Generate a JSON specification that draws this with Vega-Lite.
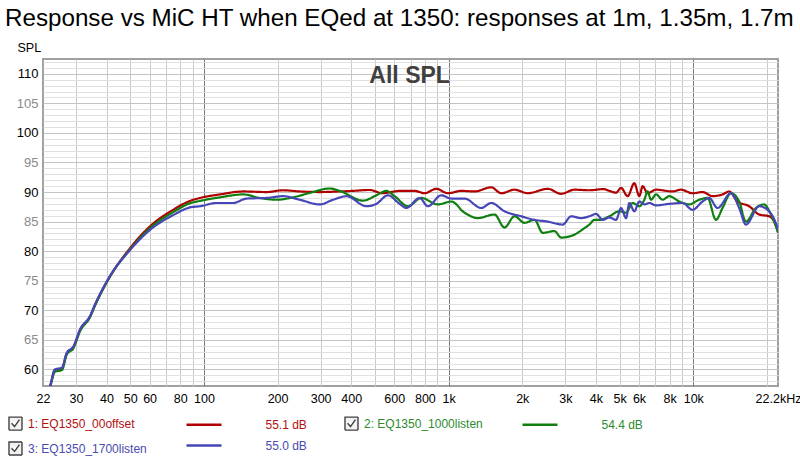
{
 "$schema": "https://vega.github.io/schema/vega-lite/v6.json",
 "width": 735,
 "height": 327,
 "autosize": {"type": "none"},
 "padding": {"left": 43, "top": 59, "right": 22, "bottom": 76},
 "background": "white",
 "title": {"text": "Response vs MiC HT when EQed at 1350: responses at 1m, 1.35m, 1.7m", "anchor": "start", "frame": "group", "dx": -38, "offset": 10, "fontSize": 24.2, "fontWeight": "normal", "font": "Liberation Sans", "color": "black"},
 "datasets": {
  "series": [
   {"s": 1, "name": "1: EQ1350_00offset", "level": "55.1 dB"},
   {"s": 2, "name": "2: EQ1350_1000listen", "level": "54.4 dB"},
   {"s": 3, "name": "3: EQ1350_1700listen", "level": "55.0 dB"}
  ],
  "resp": [
   {"s":1,"f":22.65,"db":55.7},{"s":1,"f":23.5,"db":57.1},{"s":1,"f":24.6,"db":59.9},{"s":1,"f":26.3,"db":60.2},{"s":1,"f":27.5,"db":62.7},{"s":1,"f":29.3,"db":63.8},{"s":1,"f":31.2,"db":66.7},{"s":1,"f":34.2,"db":68.9},{"s":1,"f":35.9,"db":70.9},{"s":1,"f":41.3,"db":75.7},{"s":1,"f":49.9,"db":80.5},{"s":1,"f":60.2,"db":84.2},{"s":1,"f":74.9,"db":87.0},{"s":1,"f":87.7,"db":88.5},{"s":1,"f":96.3,"db":89.0},{"s":1,"f":116.2,"db":89.6},{"s":1,"f":144.7,"db":90.1},{"s":1,"f":180.3,"db":90.0},{"s":1,"f":210.7,"db":90.3},{"s":1,"f":246.5,"db":90.1},{"s":1,"f":297.5,"db":90.0},{"s":1,"f":359.1,"db":90.1},{"s":1,"f":406.8,"db":90.2},{"s":1,"f":476,"db":90.35},{"s":1,"f":537.8,"db":89.8},{"s":1,"f":602,"db":90.1},{"s":1,"f":631,"db":90.2},{"s":1,"f":726.4,"db":90.2},{"s":1,"f":798,"db":89.8},{"s":1,"f":890.8,"db":90.55},{"s":1,"f":993.4,"db":89.8},{"s":1,"f":1126.7,"db":90.2},{"s":1,"f":1276.7,"db":90.1},{"s":1,"f":1494,"db":90.8},{"s":1,"f":1641,"db":89.8},{"s":1,"f":1860,"db":90.4},{"s":1,"f":2107,"db":89.8},{"s":1,"f":2543,"db":90.55},{"s":1,"f":2884,"db":89.7},{"s":1,"f":3268,"db":90.4},{"s":1,"f":3763,"db":90.3},{"s":1,"f":4300,"db":90.5},{"s":1,"f":4541,"db":90.2},{"s":1,"f":4837,"db":89.9},{"s":1,"f":5069,"db":90.7},{"s":1,"f":5393,"db":89.3},{"s":1,"f":5743,"db":91.5},{"s":1,"f":6020,"db":89.3},{"s":1,"f":6211,"db":91.0},{"s":1,"f":6509,"db":89.8},{"s":1,"f":7044,"db":90.4},{"s":1,"f":8232,"db":90.1},{"s":1,"f":8908,"db":90.4},{"s":1,"f":9934,"db":89.8},{"s":1,"f":10914,"db":90.0},{"s":1,"f":11990,"db":89.3},{"s":1,"f":13170,"db":89.6},{"s":1,"f":14030,"db":90.1},{"s":1,"f":15160,"db":88.4},{"s":1,"f":16925,"db":87.6},{"s":1,"f":18596,"db":86.2},{"s":1,"f":20433,"db":85.9},{"s":1,"f":22090,"db":83.6},{"s":1,"f":22200,"db":83.3},
   {"s":2,"f":22.65,"db":55.6},{"s":2,"f":23.5,"db":57.0},{"s":2,"f":24.6,"db":59.6},{"s":2,"f":26.3,"db":59.9},{"s":2,"f":27.5,"db":62.5},{"s":2,"f":29.3,"db":63.6},{"s":2,"f":31.2,"db":66.5},{"s":2,"f":34.2,"db":68.8},{"s":2,"f":35.9,"db":70.8},{"s":2,"f":41.3,"db":75.7},{"s":2,"f":49.9,"db":80.3},{"s":2,"f":60.2,"db":83.9},{"s":2,"f":74.9,"db":86.6},{"s":2,"f":87.7,"db":88.1},{"s":2,"f":96.3,"db":88.5},{"s":2,"f":116.2,"db":89.1},{"s":2,"f":144.7,"db":89.6},{"s":2,"f":169.3,"db":89.0},{"s":2,"f":198,"db":88.7},{"s":2,"f":231.4,"db":89.1},{"s":2,"f":270.8,"db":89.85},{"s":2,"f":326.8,"db":90.6},{"s":2,"f":359.1,"db":90.2},{"s":2,"f":446.9,"db":88.55},{"s":2,"f":506.8,"db":89.45},{"s":2,"f":556.8,"db":90.2},{"s":2,"f":602,"db":89.3},{"s":2,"f":682.3,"db":87.6},{"s":2,"f":773.7,"db":89.0},{"s":2,"f":904.3,"db":87.9},{"s":2,"f":1025.6,"db":88.4},{"s":2,"f":1162.2,"db":86.5},{"s":2,"f":1316.9,"db":85.6},{"s":2,"f":1541,"db":86.2},{"s":2,"f":1692,"db":84.0},{"s":2,"f":1860,"db":85.9},{"s":2,"f":2043,"db":84.8},{"s":2,"f":2244,"db":85.3},{"s":2,"f":2426,"db":83.1},{"s":2,"f":2708,"db":83.4},{"s":2,"f":2884,"db":82.3},{"s":2,"f":3268,"db":82.8},{"s":2,"f":3591,"db":83.9},{"s":2,"f":3763,"db":84.5},{"s":2,"f":3944,"db":85.3},{"s":2,"f":4134,"db":85.3},{"s":2,"f":4541,"db":85.9},{"s":2,"f":4989,"db":86.75},{"s":2,"f":5313,"db":86.5},{"s":2,"f":5652,"db":88.15},{"s":2,"f":6020,"db":87.6},{"s":2,"f":6310,"db":88.7},{"s":2,"f":6509,"db":90.1},{"s":2,"f":6720,"db":88.7},{"s":2,"f":7044,"db":89.6},{"s":2,"f":7493,"db":88.7},{"s":2,"f":7980,"db":89.3},{"s":2,"f":8768,"db":88.4},{"s":2,"f":9630,"db":87.9},{"s":2,"f":10580,"db":88.7},{"s":2,"f":11440,"db":89.0},{"s":2,"f":12380,"db":85.3},{"s":2,"f":13170,"db":87.3},{"s":2,"f":14253,"db":89.8},{"s":2,"f":15410,"db":88.4},{"s":2,"f":16412,"db":85.0},{"s":2,"f":18030,"db":87.3},{"s":2,"f":19494,"db":87.9},{"s":2,"f":20760,"db":86.2},{"s":2,"f":22090,"db":83.4},{"s":2,"f":22200,"db":83.1},
   {"s":3,"f":22.65,"db":55.8},{"s":3,"f":23.5,"db":57.2},{"s":3,"f":24.6,"db":60.0},{"s":3,"f":26.3,"db":60.3},{"s":3,"f":27.5,"db":62.8},{"s":3,"f":29.3,"db":63.9},{"s":3,"f":31.2,"db":66.8},{"s":3,"f":34.2,"db":69.0},{"s":3,"f":35.9,"db":71.0},{"s":3,"f":41.3,"db":75.8},{"s":3,"f":49.9,"db":80.2},{"s":3,"f":60.2,"db":83.6},{"s":3,"f":74.9,"db":86.1},{"s":3,"f":87.7,"db":87.4},{"s":3,"f":96.3,"db":87.6},{"s":3,"f":112.7,"db":88.15},{"s":3,"f":131.7,"db":88.15},{"s":3,"f":149.4,"db":88.9},{"s":3,"f":180.3,"db":89.0},{"s":3,"f":210.7,"db":89.3},{"s":3,"f":246.5,"db":88.7},{"s":3,"f":297.5,"db":87.9},{"s":3,"f":337.1,"db":88.7},{"s":3,"f":382.4,"db":89.3},{"s":3,"f":461.4,"db":87.6},{"s":3,"f":506.8,"db":88.0},{"s":3,"f":565.2,"db":89.45},{"s":3,"f":631,"db":88.0},{"s":3,"f":672.1,"db":87.3},{"s":3,"f":761.4,"db":89.0},{"s":3,"f":823.2,"db":87.6},{"s":3,"f":933.8,"db":89.45},{"s":3,"f":1025.6,"db":88.9},{"s":3,"f":1162.2,"db":88.9},{"s":3,"f":1359.7,"db":87.3},{"s":3,"f":1494,"db":88.15},{"s":3,"f":1692,"db":86.75},{"s":3,"f":1980,"db":85.9},{"s":3,"f":2244,"db":85.3},{"s":3,"f":2543,"db":85.0},{"s":3,"f":2928,"db":84.5},{"s":3,"f":3168,"db":85.9},{"s":3,"f":3480,"db":85.6},{"s":3,"f":3763,"db":85.9},{"s":3,"f":4008,"db":86.3},{"s":3,"f":4264,"db":85.3},{"s":3,"f":4541,"db":85.7},{"s":3,"f":4837,"db":85.3},{"s":3,"f":5069,"db":87.3},{"s":3,"f":5313,"db":85.6},{"s":3,"f":5480,"db":88.15},{"s":3,"f":5743,"db":86.75},{"s":3,"f":6020,"db":88.4},{"s":3,"f":6310,"db":87.9},{"s":3,"f":6614,"db":88.15},{"s":3,"f":7044,"db":87.75},{"s":3,"f":7980,"db":88.0},{"s":3,"f":9043,"db":88.15},{"s":3,"f":9934,"db":87.0},{"s":3,"f":10914,"db":88.4},{"s":3,"f":11622,"db":89.0},{"s":3,"f":12566,"db":87.3},{"s":3,"f":14253,"db":89.8},{"s":3,"f":15410,"db":87.3},{"s":3,"f":16412,"db":84.5},{"s":3,"f":18596,"db":87.6},{"s":3,"f":20107,"db":87.0},{"s":3,"f":22090,"db":83.9},{"s":3,"f":22200,"db":83.6}
  ]
 },
 "resolve": {"axis": {"x": "independent", "y": "independent"}},
 "layer": [
  {
   "data": {"name": "resp"},
   "transform": [{"lookup": "s", "from": {"data": {"name": "series"}, "key": "s", "fields": ["name", "level"]}}],
   "mark": {"type": "line", "strokeWidth": 2.2, "interpolate": "monotone", "clip": true},
   "encoding": {
    "detail": {"field": "s", "type": "nominal"},
    "x": {"field": "f", "type": "quantitative",
      "scale": {"type": "log", "domain": [22, 22200], "nice": false},
      "axis": {"orient": "bottom", "title": null, "values": [22,30,40,50,60,80,100,200,300,400,600,800,1000,2000,3000,4000,5000,6000,8000,10000,22200],
        "labelExpr": "datum.value >= 22000 ? '22.2kHz' : (datum.value >= 1000 ? (datum.value/1000) + 'k' : datum.label)",
        "grid": false, "ticks": false, "domain": false, "labelFontSize": 12.5, "labelFont": "Liberation Sans", "labelColor": "#000000", "labelPadding": 6, "labelOverlap": false, "labelBound": false, "labelFlush": false}},
    "y": {"field": "db", "type": "quantitative",
      "scale": {"domain": [57.2, 112.5], "nice": false, "zero": false},
      "axis": {"orient": "left", "title": "SPL", "titleAngle": 0, "titleX": -26, "titleY": -12, "titleAlign": "left", "titleBaseline": "middle", "titleFontWeight": "normal", "titleFontSize": 12.5, "titleFont": "Liberation Sans", "titleColor": "#000000",
        "values": [60,65,70,75,80,85,90,95,100,105,110],
        "grid": false,
        "labelColor": {"condition": {"test": "datum.value % 10 == 0", "value": "#000000"}, "value": "#8a8a8a"},
        "ticks": false, "domain": false, "labelFontSize": 13, "labelFont": "Liberation Sans", "labelPadding": 5, "labelOverlap": false, "labelBound": false, "labelFlush": false}},
    "color": {"field": "level", "type": "nominal",
      "scale": {"domain": ["55.1 dB", "55.0 dB", "54.4 dB"], "range": ["#B00000", "#4646B8", "#0F7F0F"]},
      "legend": {"title": null, "orient": "none", "legendX": 152.5, "legendY": 357, "columns": 2, "columnPadding": 210, "rowPadding": 6, "padding": 0,
        "symbolType": "M-2.5,0H2.5", "symbolSize": 196, "symbolStrokeWidth": 2.5, "labelOffset": 53,
        "labelFontSize": 12, "labelFont": "Liberation Sans",
        "labelColor": {"expr": "datum.value == '55.1 dB' ? '#B01010' : datum.value == '54.4 dB' ? '#2E8B2E' : '#4A4AB0'"}}},
    "strokeDash": {"field": "name", "type": "nominal",
      "scale": {"domain": ["1: EQ1350_00offset", "3: EQ1350_1700listen", "2: EQ1350_1000listen"], "range": [[1, 0], [1, 0], [1, 0]]},
      "legend": {"title": null, "orient": "none", "legendX": -35, "legendY": 357, "columns": 2, "columnPadding": 195, "rowPadding": 6, "padding": 0,
        "symbolType": "M-1,-1H1V1H-1Z M-0.6,-0.05L-0.15,0.45L0.6,-0.6", "symbolSize": 169, "symbolStrokeWidth": 1.4, "symbolStrokeColor": "#404040", "symbolFillColor": "#f2f2f2", "labelOffset": 5,
        "labelFontSize": 12, "labelFont": "Liberation Sans",
        "labelColor": {"expr": "datum.value == '1: EQ1350_00offset' ? '#B01010' : datum.value == '2: EQ1350_1000listen' ? '#2E8B2E' : '#4A4AB0'"}}}
   }
  },
  {
   "data": {"values": [{}]},
   "mark": {"type": "text", "text": "All SPL", "fontSize": 23, "fontWeight": "bold", "font": "Liberation Sans", "color": "#404040", "align": "center", "baseline": "alphabetic"},
   "encoding": {
    "x": {"datum": 693, "type": "quantitative",
      "axis": {"orient": "bottom", "title": null, "labels": false, "ticks": false, "domain": false, "grid": true,
        "values": [30,40,50,60,70,80,90,100,200,300,400,500,600,700,800,900,1000,2000,3000,4000,5000,6000,7000,8000,9000,10000,20000],
        "gridColor": {"condition": {"test": "datum.value == 100 || datum.value == 1000 || datum.value == 10000", "value": "#7a7a7a"}, "value": "#c8c8c8"}}},
    "y": {"datum": 108.4, "type": "quantitative",
      "axis": {"orient": "left", "title": null, "labels": false, "ticks": false, "domain": false, "grid": true,
        "values": [58,59,60,61,62,63,64,65,66,67,68,69,70,71,72,73,74,75,76,77,78,79,80,81,82,83,84,85,86,87,88,89,90,91,92,93,94,95,96,97,98,99,100,101,102,103,104,105,106,107,108,109,110,111,112],
        "gridColor": {"condition": {"test": "datum.value % 5 == 0", "value": "#c4c4c4"}, "value": "#e0e0e0"}}}
   }
  }
 ],
 "config": {"view": {"stroke": "#a0a0a0", "strokeWidth": 2}, "font": "Liberation Sans"}
}
